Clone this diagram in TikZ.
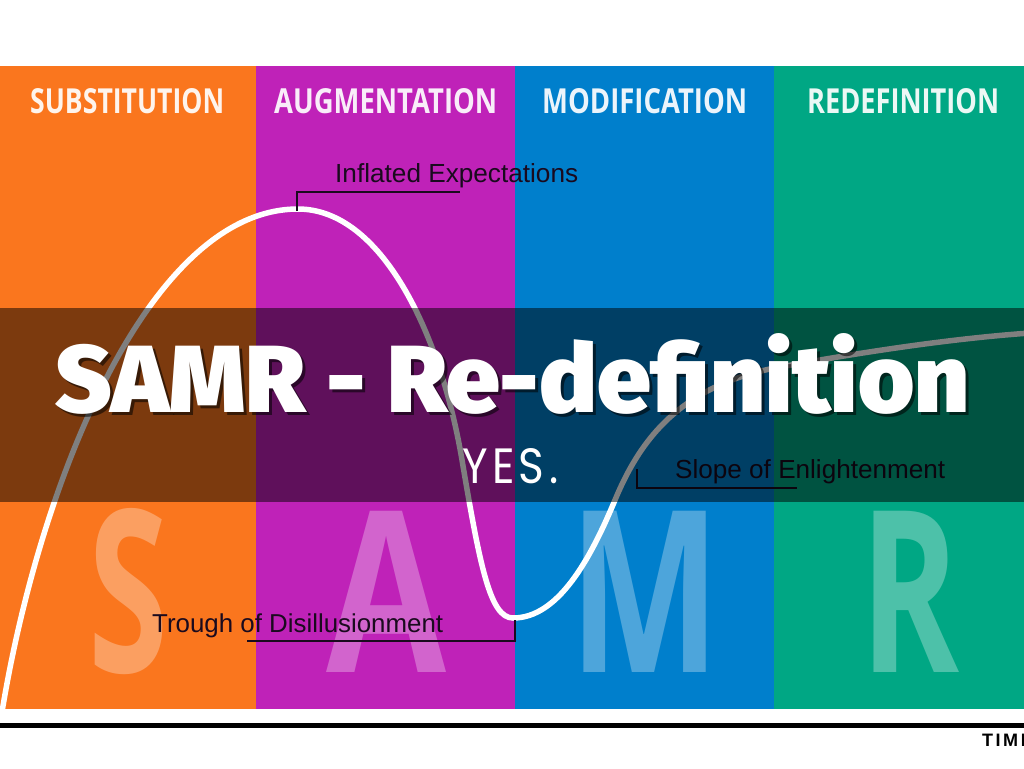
\documentclass[tikz,border=0pt]{standalone}
\usepackage{fontspec}
\usepackage{graphicx}
\setmainfont{Liberation Sans}
\newfontfamily\headfont{Open Sans}
\newfontfamily\titlefont{Fira Sans Black}
\newfontfamily\yesfont{Poppins}[LetterSpace=10]
\newfontfamily\timfont{Liberation Sans}[LetterSpace=14]
\definecolor{corange}{HTML}{FA761E}
\definecolor{cmag}{HTML}{BF22B8}
\definecolor{cblue}{HTML}{007FCC}
\definecolor{cgreen}{HTML}{00A784}
\definecolor{lblink}{HTML}{1A0A1E}
\tikzset{
  bigletter/.style={text=white, text opacity=0.3, inner sep=0pt, anchor=base west, font=\headfont\bfseries},
  header/.style={text=white, text opacity=0.92, inner sep=0pt, anchor=base west, font=\headfont\bfseries},
  lbl/.style={text=lblink, inner sep=0pt, anchor=base west},
  leader/.style={draw=lblink, line width=1.3pt},
  curve/.style={draw=white, line width=5.5pt, line cap=round},
  titletext/.style={inner sep=0pt, anchor=base west, font=\titlefont},
}
\begin{document}
\begin{tikzpicture}[x=1pt,y=-1pt]
\useasboundingbox (0,0) rectangle (1024,768);
\clip (0,0) rectangle (1024,768);
\fill[white] (0,0) rectangle (1024,768);
% columns
\fill[corange] (0,66) rectangle (256,709);
\fill[cmag] (256,66) rectangle (515,709);
\fill[cblue] (515,66) rectangle (774,709);
\fill[cgreen] (774,66) rectangle (1024,709);
% big letters
\node[bigletter] (bS) at (88,672) {\resizebox{80pt}{164pt}{S}};
\node[bigletter] (bA) at (326,672) {\resizebox{120pt}{161pt}{A}};
\node[bigletter] (bM) at (569,672) {\resizebox{151pt}{161pt}{M}};
\node[bigletter] (bR) at (860,672) {\resizebox{99pt}{161pt}{R}};
% headers
\node[header] (hS) at (30,113) {\resizebox{194pt}{25pt}{SUBSTITUTION}};
\node[header] (hA) at (274,113) {\resizebox{223pt}{25pt}{AUGMENTATION}};
\node[header] (hM) at (542,113) {\resizebox{205pt}{25pt}{MODIFICATION}};
\node[header] (hR) at (807,113) {\resizebox{192pt}{25pt}{REDEFINITION}};
% hype curve
\draw[curve] (2,712) .. controls (40,480) and (150,209) .. (298,209)
  .. controls (380,209) and (440,330) .. (462,460)
  .. controls (480,566) and (490,618) .. (513,618)
  .. controls (558,618) and (590,560) .. (615,500)
  .. controls (640,440) and (680,385) .. (780,367)
  .. controls (880,349) and (960,338) .. (1030,333);
% labels
\node[lbl] (inf) at (335,182) {\resizebox{243pt}{!}{\fontsize{24pt}{24pt}\selectfont Inflated Expectations}};
\node[lbl] (tro) at (152,632) {\resizebox{291pt}{!}{\fontsize{24pt}{24pt}\selectfont Trough of Disillusionment}};
\node[lbl] (slo) at (675,478) {\resizebox{270pt}{!}{\fontsize{24pt}{24pt}\selectfont Slope of Enlightenment}};
\coordinate (peak) at (297,211);
\coordinate (infL) at (297,192);
\coordinate (infR) at (460,192);
\draw[leader] (peak) -- (infL) -- (infR);
\coordinate (trough) at (515,620);
\coordinate (troL) at (247,641);
\draw[leader] (trough) |- (troL);
\coordinate (slope) at (637,469);
\coordinate (sloR) at (797,488);
\draw[leader] (slope) |- (sloR);
% dark band
\fill[black, opacity=0.5] (0,308) rectangle (1024,502);
% title
\node[titletext, text=black, text opacity=0.55] (titleshadow) at (58,415) {\resizebox{914pt}{79pt}{SAMR - Re-definition}};
\node[titletext, text=white] (title) at (55,412) {\resizebox{914pt}{79pt}{SAMR - Re-definition}};
\node[inner sep=0pt, anchor=base west, text=white] (yes) at (462,483) {\resizebox{96pt}{35pt}{\yesfont YES.}};
% footer
\fill[black] (0,723) rectangle (1024,728);
\node[inner sep=0pt, anchor=base west, text=black] (tim) at (982,746) {\timfont\bfseries\fontsize{18pt}{18pt}\selectfont TIMI};
\end{tikzpicture}
\end{document}
